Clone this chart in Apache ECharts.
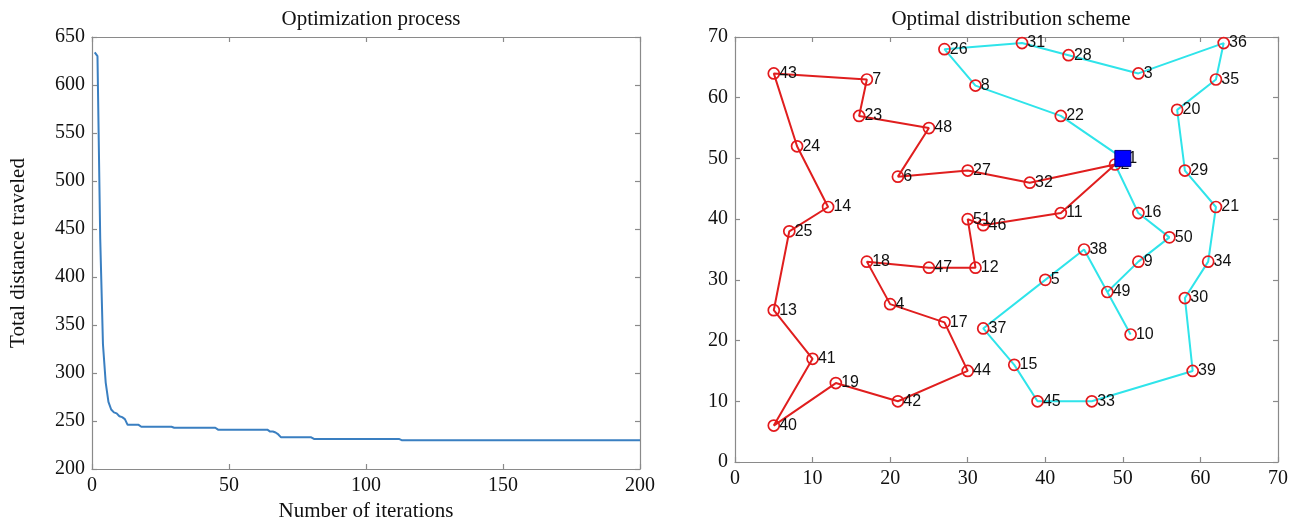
<!DOCTYPE html>
<html>
<head>
<meta charset="utf-8">
<script src="https://cdn.jsdelivr.net/npm/echarts@6/dist/echarts.min.js"></script>
<style>html,body{margin:0;padding:0;background:#fff;}#c{width:1300px;height:527px;}</style>
</head>
<body>
<div id="c"></div>
<script>
// ---- Left chart: total distance per iteration (iterations 1..200) ----
const distance = [
  634, 630, 440, 330, 290, 270, 262, 259, 258, 255, 254, 252,
  246, 246, 246, 246, 246,
  244, 244, 244, 244, 244, 244, 244, 244, 244, 244, 244, 244,
  243, 243, 243, 243, 243, 243, 243, 243, 243, 243, 243, 243, 243, 243, 243, 243,
  241, 241, 241, 241, 241, 241, 241, 241, 241, 241, 241, 241, 241, 241, 241, 241, 241, 241, 241,
  239, 239, 238, 236,
  233, 233, 233, 233, 233, 233, 233, 233, 233, 233, 233, 233,
  231.3, 231.3, 231.3, 231.3, 231.3, 231.3, 231.3, 231.3, 231.3, 231.3, 231.3, 231.3, 231.3, 231.3, 231.3, 231.3,
  231.3, 231.3, 231.3, 231.3, 231.3, 231.3, 231.3, 231.3, 231.3, 231.3, 231.3, 231.3, 231.3, 231.3, 231.3, 231.3,
  230, 230, 230, 230, 230, 230, 230, 230, 230, 230, 230, 230, 230, 230, 230, 230, 230, 230, 230, 230, 230, 230,
  230, 230, 230, 230, 230, 230, 230, 230, 230, 230, 230, 230, 230, 230, 230, 230, 230, 230, 230, 230, 230, 230,
  230, 230, 230, 230, 230, 230, 230, 230, 230, 230, 230, 230, 230, 230, 230, 230, 230, 230, 230, 230, 230, 230,
  230, 230, 230, 230, 230, 230, 230, 230, 230, 230, 230, 230, 230, 230, 230, 230, 230, 230, 230, 230, 230, 230
];
const leftXTicks = [0, 50, 100, 150, 200];
const leftYTicks = [200, 250, 300, 350, 400, 450, 500, 550, 600, 650];

// ---- Right chart: node coordinates (node 1..51) and routes ----
const nodeX = [50,49,52,20,40,21,17,31,52,51,42,31,5,12,36,52,27,17,13,57,62,42,16,8,7,27,30,43,58,58,37,38,46,61,62,63,32,45,59,5,10,21,5,30,39,32,25,25,48,56,30];
const nodeY = [50,49,64,26,30,47,63,62,33,21,41,32,25,42,16,41,23,33,13,58,42,57,57,52,38,68,48,67,48,27,69,46,10,33,63,69,22,35,15,6,17,10,64,15,10,39,32,55,28,37,40];
const redRoute = [2,32,27,6,48,23,7,43,24,14,25,13,41,40,19,42,44,17,4,18,47,12,51,46,11,2];
const cyanRoute = [1,22,8,26,31,28,3,36,35,20,29,21,34,30,39,33,45,15,37,5,38,10,49,9,50,16,2];
const depot = [50, 50];

const serif = 'Liberation Serif';
const sans = 'Liberation Sans';
const axisGray = '#8a8a8a';

function mkAxis(grid, pos, min, max, interval, showLabel) {
  return {
    type: 'value', gridIndex: grid, position: pos, min: min, max: max, interval: interval,
    axisLine: { show: true, onZero: false, lineStyle: { color: axisGray, width: 1.2 } },
    axisTick: { show: true, inside: true, length: 5, lineStyle: { color: axisGray, width: 1.2 } },
    axisLabel: { show: showLabel, margin: 7, fontFamily: serif, fontSize: 20, color: '#111' },
    splitLine: { show: false }
  };
}

const xAxes = [
  Object.assign(mkAxis(0, 'bottom', leftXTicks[0], leftXTicks[leftXTicks.length - 1], 50, true), {
    name: 'Number of iterations', nameLocation: 'middle', nameGap: 32,
    nameTextStyle: { fontFamily: serif, fontSize: 21, color: '#111' }
  }),
  mkAxis(0, 'top', 0, 200, 50, false),
  mkAxis(1, 'bottom', 0, 70, 10, true),
  mkAxis(1, 'top', 0, 70, 10, false)
];
const yAxes = [
  Object.assign(mkAxis(0, 'left', leftYTicks[0], leftYTicks[leftYTicks.length - 1], 50, true), {
    name: 'Total distance traveled', nameLocation: 'middle', nameGap: 63,
    nameTextStyle: { fontFamily: serif, fontSize: 21, color: '#111' }
  }),
  mkAxis(0, 'right', 200, 650, 50, false),
  mkAxis(1, 'left', 0, 70, 10, true),
  mkAxis(1, 'right', 0, 70, 10, false)
];

const routeData = r => r.map(n => [nodeX[n - 1], nodeY[n - 1]]);
const nodeData = nodeX.map((x, i) => [x, nodeY[i], i + 1]);

const option = {
  backgroundColor: '#ffffff',
  animation: false,
  title: [
    { text: 'Optimization process', left: 366, top: 4, textAlign: 'center',
      textStyle: { fontFamily: serif, fontSize: 21, fontWeight: 'normal', color: '#111' } },
    { text: 'Optimal distribution scheme', left: 1006, top: 4, textAlign: 'center',
      textStyle: { fontFamily: serif, fontSize: 21, fontWeight: 'normal', color: '#111' } }
  ],
  grid: [
    { left: 92, top: 37, width: 548, height: 432, containLabel: false },
    { left: 735, top: 37, width: 543, height: 425, containLabel: false }
  ],
  xAxis: xAxes,
  yAxis: yAxes,
  series: [
    {
      type: 'line', xAxisIndex: 0, yAxisIndex: 0, symbol: 'none',
      data: distance.map((v, i) => [i + 1, v]),
      lineStyle: { color: '#3a7fc1', width: 2 }
    },
    {
      type: 'line', xAxisIndex: 2, yAxisIndex: 2, symbol: 'none',
      data: routeData(redRoute),
      lineStyle: { color: '#e01e1e', width: 2 }, z: 2
    },
    {
      type: 'line', xAxisIndex: 2, yAxisIndex: 2, symbol: 'none',
      data: routeData(cyanRoute),
      lineStyle: { color: '#2fe4ea', width: 2 }, z: 2
    },
    {
      type: 'scatter', xAxisIndex: 2, yAxisIndex: 2, symbol: 'circle', symbolSize: 11,
      data: nodeData, z: 3,
      itemStyle: { color: 'rgba(0,0,0,0)', borderColor: '#e3191c', borderWidth: 1.7, opacity: 1 },
      label: {
        show: true, position: 'right', distance: -1,
        formatter: p => String(p.value[2]),
        fontFamily: sans, fontSize: 16, color: '#111'
      },
      emphasis: { disabled: true }
    },
    {
      type: 'scatter', xAxisIndex: 2, yAxisIndex: 2, symbol: 'rect', symbolSize: 16,
      data: [depot], zlevel: 1, z: 10,
      itemStyle: { color: '#0000ff', borderColor: '#00007a', borderWidth: 1, opacity: 1 },
      emphasis: { disabled: true }
    }
  ]
};

const chart = echarts.init(document.getElementById('c'), null, { renderer: 'canvas' });
chart.setOption(option);
</script>
</body>
</html>
